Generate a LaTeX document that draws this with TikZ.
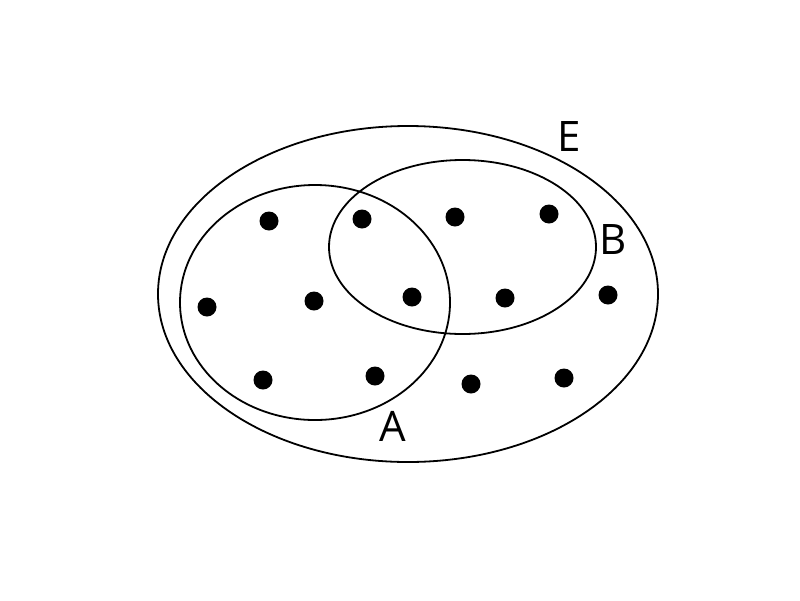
\documentclass[tikz,border=0pt]{standalone}
\usepackage{fontspec}
\setmainfont{Open Sans}
\begin{document}
\begin{tikzpicture}[x=1pt,y=-1pt,
  setline/.style={draw=black,line width=1.8pt},
  elem/.style={circle,fill=black,inner sep=0pt,minimum size=19pt},
  setlabel/.style={font=\fontsize{42}{42}\selectfont,inner sep=0pt,anchor=center}]
\useasboundingbox[fill=white] (0,0) rectangle (800,600);
\draw[setline] (408,294) ellipse [x radius=250, y radius=168];
\draw[setline] (315,302.5) ellipse [x radius=135, y radius=117.5];
\draw[setline] (462.5,247) ellipse [x radius=133.5, y radius=87];
\foreach \n/\x/\y in {1/269/221,2/362/219,3/455/217,4/549/214,5/207/307,6/314/301,7/412/297,8/505/298,9/608/295,10/263/380,11/375/376,12/471/384,13/564/378}
  \node[elem] (d\n) at (\x,\y) {};
\node[setlabel] (E) at (569,137) {E};
\node[setlabel] (B) at (613,240) {B};
\node[setlabel] (A) at (393,426) {A};
\end{tikzpicture}
\end{document}
